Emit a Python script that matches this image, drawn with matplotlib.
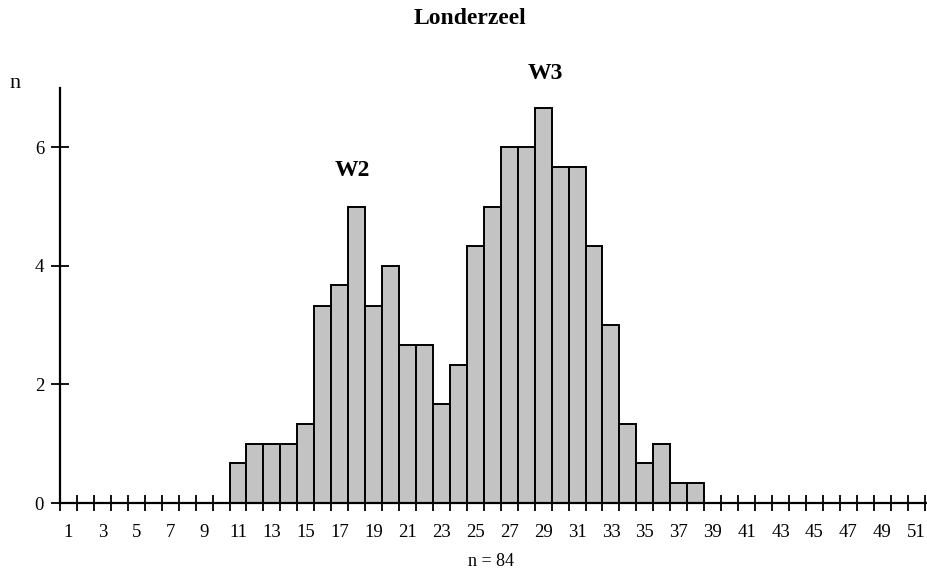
import matplotlib

matplotlib.use("Agg")
import matplotlib.pyplot as plt  # noqa: E402
import numpy as np  # noqa: E402

TITLE = "Londerzeel"

# length classes and smoothed counts (3-point running mean)
classes = np.arange(11, 39)
counts = [0.67, 1.0, 1.0, 1.0, 1.33, 3.33, 3.67, 5.0, 3.33, 4.0,
          2.67, 2.67, 1.67, 2.33, 4.33, 5.0, 6.0, 6.0, 6.67, 5.67,
          5.67, 4.33, 3.0, 1.33, 0.67, 1.0, 0.33, 0.33]

x_labels = list(range(1, 52, 2))
y_ticks = [0, 2, 4, 6]

peaks = [("W2", 17.75, 5.6), ("W3", 29.15, 7.24)]
n_total = 84

plt.rcParams["font.family"] = ["Liberation Serif", "DejaVu Serif"]

fig = plt.figure(figsize=(9.28, 5.73), dpi=100)
ax = fig.add_axes([60 / 928, 1 - 503 / 573, 1 - 60 / 928, (503 - 88) / 573])

ax.bar(classes, counts, width=1.0, color="#c3c3c3", edgecolor="black",
       linewidth=1.4, zorder=2)

ax.set_xlim(0.5, 51.7)
ax.set_ylim(0, 7.0)

# ticks sit on the class boundaries, labels in the middle of odd classes
ax.set_xticks(np.arange(0.5, 52, 1.0))
ax.set_xticklabels([])
ax.set_xticks(x_labels, minor=True)
ax.set_xticklabels([str(v) for v in x_labels], minor=True)
ax.tick_params(axis="x", which="major", direction="inout", length=12,
               width=1.3, color="black")
ax.tick_params(axis="x", which="minor", length=0, pad=15, labelsize=13.5)

ax.set_yticks(y_ticks)
ax.set_yticklabels([str(v) for v in y_ticks])
ax.tick_params(axis="y", direction="inout", length=13, width=1.3,
               pad=5, labelsize=13.5)

for side in ("top", "right"):
    ax.spines[side].set_visible(False)
for side in ("left", "bottom"):
    ax.spines[side].set_linewidth(1.6)
    ax.spines[side].set_zorder(3)

for label, x, y in peaks:
    ax.text(x, y, label, ha="center", va="center", fontsize=17,
            fontweight="bold")

fig.text(470 / 928, 1 - 19 / 573, TITLE, ha="center", va="center",
         fontsize=17, fontweight="bold")
fig.text(9 / 928, 1 - 84 / 573, "n", ha="left", va="center", fontsize=16)
fig.text(491 / 928, 1 - 561 / 573, f"n = {n_total}", ha="center",
         va="center", fontsize=13)

fig.savefig("out.png", dpi=100)
